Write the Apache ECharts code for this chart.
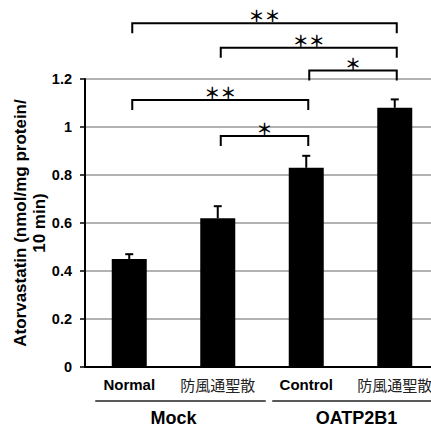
<!DOCTYPE html>
<html>
<head>
<meta charset="utf-8">
<script src="https://cdn.jsdelivr.net/npm/echarts@6/dist/echarts.min.js"></script>
<style>
  html, body { margin: 0; padding: 0; background: #fff; }
  #chart { width: 431px; height: 430px; }
</style>
</head>
<body>
<div id="chart"></div>
<script>
// --- data ---
var categories = ['Normal', '防風通聖散', 'Control', '防風通聖散'];
var means = [0.45, 0.62, 0.83, 1.08];
var errors = [0.02, 0.05, 0.05, 0.035];
var groups = ['Mock', 'OATP2B1'];
var groupSpans = [[0, 1], [2, 3]];
// bracket: [from category, to category, height]
var brackets = [[0, 3, 1.432], [1, 3, 1.33], [2, 3, 1.235], [0, 2, 1.1125], [1, 2, 0.9625]];
var bracketMarks = ['＊＊', '＊＊', '＊', '＊＊', '＊'];

(function() {
  var latin = 'Liberation Sans, Arial, sans-serif';
  var cjk = 'Noto Sans CJK JP, sans-serif';
  var ink = '#000';
  var grid = '#999';

  var chart = echarts.init(document.getElementById('chart'), null, { renderer: 'svg' });

  chart.setOption({
    animation: false,
    grid: { left: 85, top: 79, width: 354, height: 288, outerBoundsMode: 'none', containLabel: false },
    xAxis: {
      type: 'category',
      data: categories,
      axisLine: { lineStyle: { color: ink, width: 2 } },
      axisTick: { show: false },
      axisLabel: {
        interval: 0,
        margin: 10,
        hideOverlap: false,
        formatter: function(v) {
          return /[A-Za-z]/.test(v) ? '{b|' + v + '}' : '{c|' + v + '}';
        },
        rich: {
          b: { fontFamily: latin, fontWeight: 'bold', fontSize: 15, color: ink },
          c: { fontFamily: cjk, fontSize: 15, color: '#222' }
        }
      }
    },
    yAxis: {
      type: 'value',
      min: 0,
      max: 1.2,
      interval: 0.2,
      name: 'Atorvastatin (nmol/mg protein/\n10 min)',
      nameLocation: 'middle',
      nameGap: 36,
      nameMoveOverlap: false,
      nameTextStyle: { fontFamily: latin, fontWeight: 'bold', fontSize: 17, color: ink, lineHeight: 19 },
      axisLine: { show: true, lineStyle: { color: ink, width: 2 } },
      axisTick: { show: true, length: 5, lineStyle: { color: ink, width: 1.5 } },
      splitLine: { lineStyle: { color: grid, width: 1.5 } },
      axisLabel: {
        fontFamily: latin, fontWeight: 'bold', fontSize: 14.5, color: ink, margin: 13,
        formatter: function(v) { return String(+v.toFixed(1)); }
      }
    },
    series: [
      {
        type: 'bar',
        data: means,
        barWidth: 35,
        itemStyle: { color: ink },
        z: 2
      },
      {
        type: 'custom',
        data: means.map(function(m, i) { return [i, m, errors[i]]; }),
        encode: { x: 0, y: 1 },
        z: 3,
        renderItem: function(params, api) {
          var i = api.value(0), m = api.value(1), e = api.value(2);
          var base = api.coord([i, m]);
          var top = api.coord([i, m + e]);
          var st = { stroke: ink, lineWidth: 2 };
          return {
            type: 'group',
            children: [
              { type: 'line', shape: { x1: base[0], y1: base[1], x2: top[0], y2: top[1] }, style: st },
              { type: 'line', shape: { x1: top[0] - 4, y1: top[1], x2: top[0] + 4, y2: top[1] }, style: st }
            ]
          };
        }
      },
      {
        type: 'custom',
        data: brackets,
        encode: { x: [0, 1], y: 2 },
        clip: false,
        z: 4,
        renderItem: function(params, api) {
          var a = api.coord([api.value(0), api.value(2)]);
          var b = api.coord([api.value(1), api.value(2)]);
          var x1 = a[0] + 3, x2 = b[0] + 2, y = a[1], leg = 10;
          return {
            type: 'group',
            children: [
              {
                type: 'polyline',
                shape: { points: [[x1, y + leg], [x1, y], [x2, y], [x2, y + leg]] },
                style: { stroke: ink, lineWidth: 2, fill: null }
              },
              {
                type: 'text',
                style: {
                  x: (x1 + x2) / 2, y: y - 8,
                  text: bracketMarks[params.dataIndex],
                  fontFamily: cjk, fontWeight: 'bold', fontSize: 16, fill: ink,
                  align: 'center', verticalAlign: 'middle'
                }
              }
            ]
          };
        }
      }
    ]
  });

  // group lines and labels under the category axis
  var gfx = [];
  groupSpans.forEach(function(span, g) {
    var p0 = chart.convertToPixel({ xAxisIndex: 0 }, span[0]);
    var p1 = chart.convertToPixel({ xAxisIndex: 0 }, span[1]);
    gfx.push({
      type: 'line',
      shape: { x1: p0 - 34, y1: 401, x2: p1 + 48, y2: 401 },
      style: { stroke: '#222', lineWidth: 1.5 }
    });
    gfx.push({
      type: 'text',
      x: (p0 + p1) / 2 + (g ? 6 : 0),
      y: 418,
      style: {
        text: groups[g], fontFamily: latin, fontWeight: 'bold', fontSize: 18, fill: ink,
        align: 'center', verticalAlign: 'middle'
      }
    });
  });
  chart.setOption({ graphic: gfx });
})();
</script>
</body>
</html>
